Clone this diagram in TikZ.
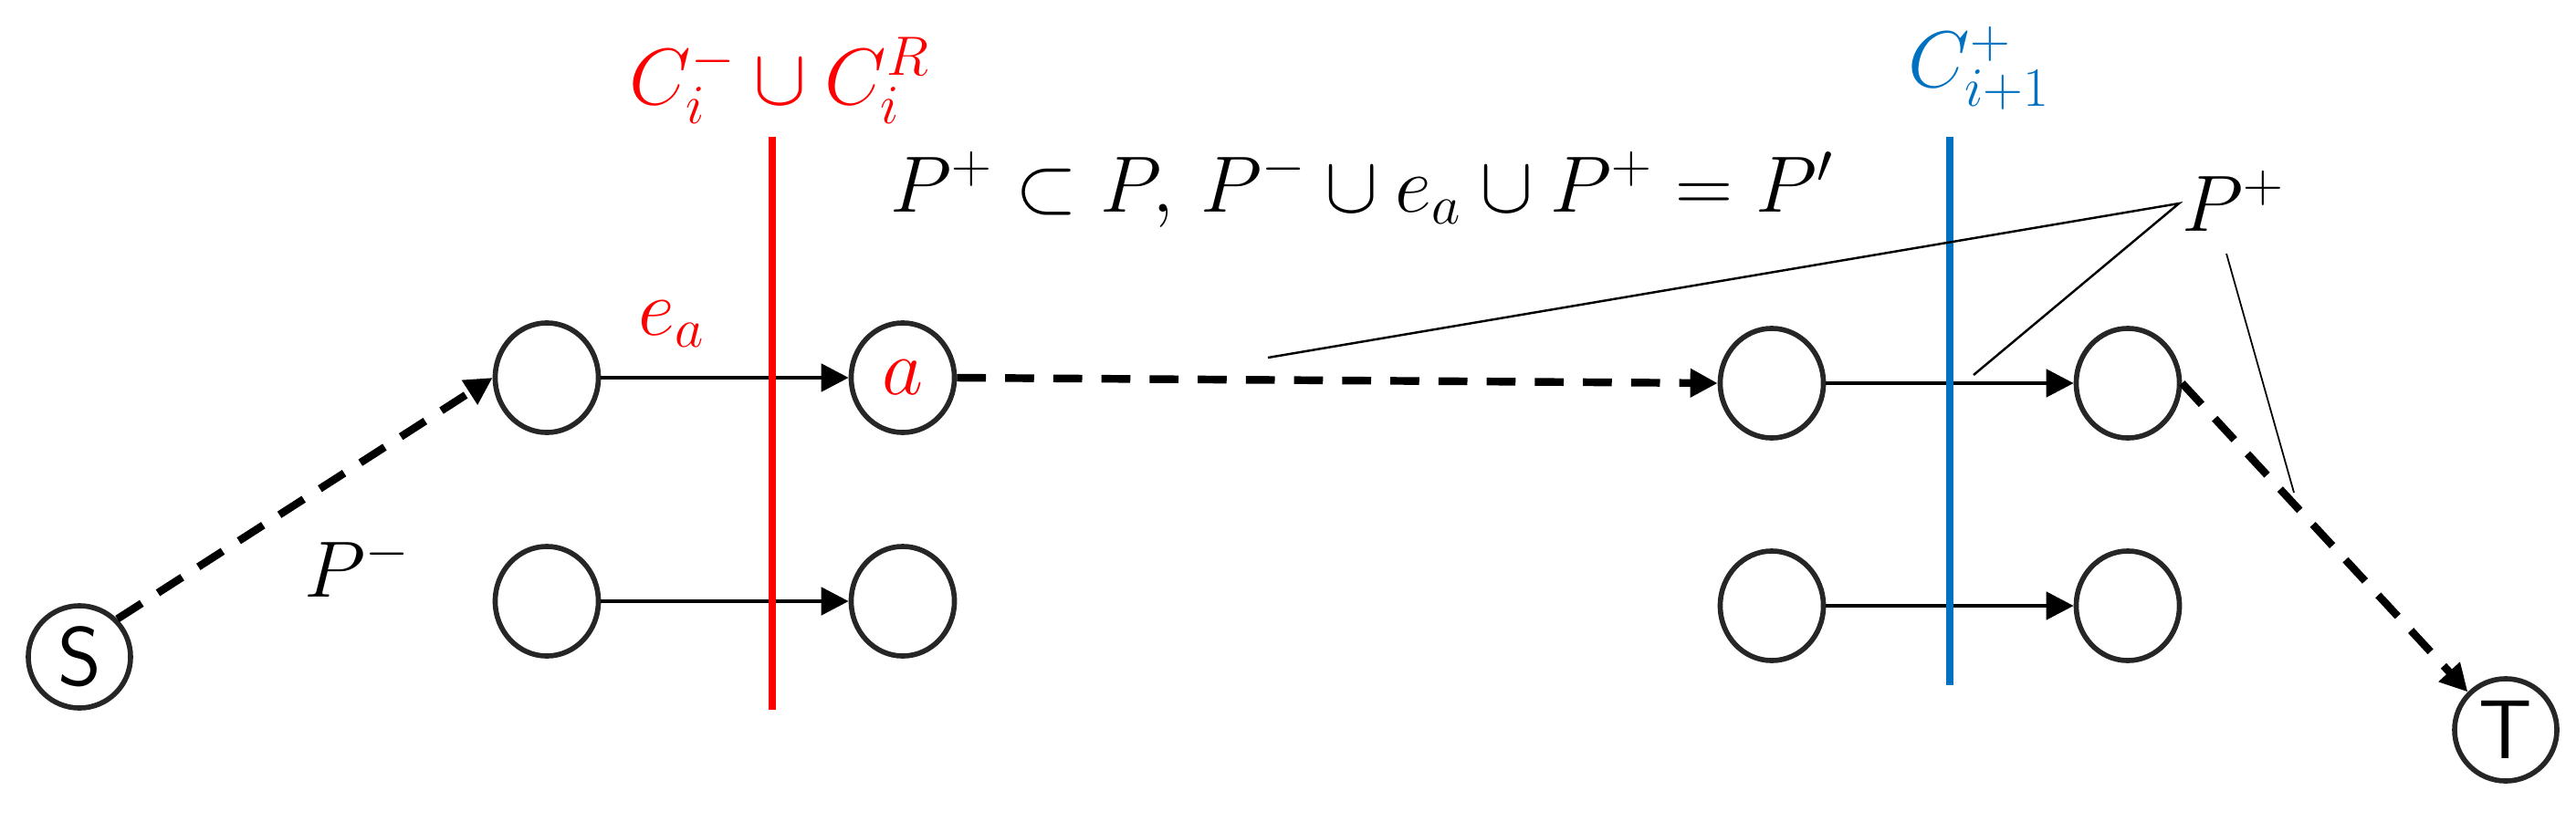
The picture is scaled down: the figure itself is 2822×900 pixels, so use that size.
\documentclass[tikz,border=0pt]{standalone}
\usetikzlibrary{arrows.meta,shapes.geometric}
\definecolor{cutred}{RGB}{255,0,0}
\definecolor{cutblue}{RGB}{0,112,192}
\definecolor{nodegray}{RGB}{38,38,38}
\begin{document}
\begin{tikzpicture}[x=0.01cm,y=-0.01cm,
  vert/.style={draw=nodegray,line width=1.6pt,ellipse,minimum width=1.13cm,minimum height=1.2cm,inner sep=0pt,font=\fontsize{26}{30}\selectfont},
  term/.style={draw=nodegray,line width=1.6pt,circle,minimum size=1.12cm,inner sep=0pt,font=\fontsize{26}{30}\selectfont\sffamily},
  solidarrow/.style={line width=1.4pt,-{Triangle[length=0.3cm,width=0.3cm]}},
  dasharrow/.style={line width=2.4pt,dash pattern=on 9pt off 6pt,-{Triangle[length=0.3cm,width=0.3cm]}},
  cutline/.style={line width=2.4pt},
  leader/.style={line width=0.7pt},
  lbl/.style={font=\fontsize{25}{30}\selectfont,inner sep=0pt}]
\useasboundingbox (0,0) rectangle (2822,900);
% nodes
\node[term] (S) at (87,720) {S};
\node[term] (T) at (2745,800) {T};
\node[vert] (c1) at (599,414) {};
\node[vert] (a) at (989,414) {\textcolor{cutred}{$a$}};
\node[vert] (d1) at (599,659) {};
\node[vert] (d2) at (989,659) {};
\node[vert] (c3) at (1941,420) {};
\node[vert] (c4) at (2331,420) {};
\node[vert] (d3) at (1941,664) {};
\node[vert] (d4) at (2331,664) {};
% cut lines
\coordinate (rtop) at (846,150);
\coordinate (rbot) at (846,778);
\coordinate (btop) at (2136,150);
\coordinate (bbot) at (2136,751);
% arrows
\draw[solidarrow] (c1.east) -- (a.west);
\draw[solidarrow] (d1.east) -- (d2.west);
\draw[solidarrow] (c3.east) -- (c4.west);
\draw[solidarrow] (d3.east) -- (d4.west);
\draw[dasharrow] (S.45) -- (c1.west);
\draw[dasharrow] (a.east) -- (c3.west);
\draw[dasharrow] (c4.east) -- (T.135);
\draw[cutline,cutred] (rtop) -- (rbot);
\draw[cutline,cutblue] (btop) -- (bbot);
% labels
\node[lbl,text=cutred,anchor=base west] (lred) at (689,114) {$C_i^- \cup C_i^R$};
\node[lbl,text=cutblue,anchor=base west] (lblue) at (2090,95) {$C_{i+1}^+$};
\node[lbl,text=cutred,anchor=base west] (lea) at (699,367) {$e_a$};
\node[lbl,anchor=base west] (lpm) at (333,654) {$P^-$};
\node[lbl,anchor=base west] (pplus) at (2390,253) {$P^+$};
\node[lbl,anchor=base west] (form) at (975,232) {$P^+ \subset P,\, P^- \cup e_a \cup P^+ = P'$};
% leader lines
\coordinate (L0) at (2387,223);
\coordinate (L1) at (1389,392);
\coordinate (L2) at (2162,411);
\coordinate (L3a) at (2439,278);
\coordinate (L3b) at (2513,540);
\draw[leader] (L1) -- (L0) -- (L2);
\draw[line width=0.5pt] (L3a) -- (L3b);
\end{tikzpicture}
\end{document}
